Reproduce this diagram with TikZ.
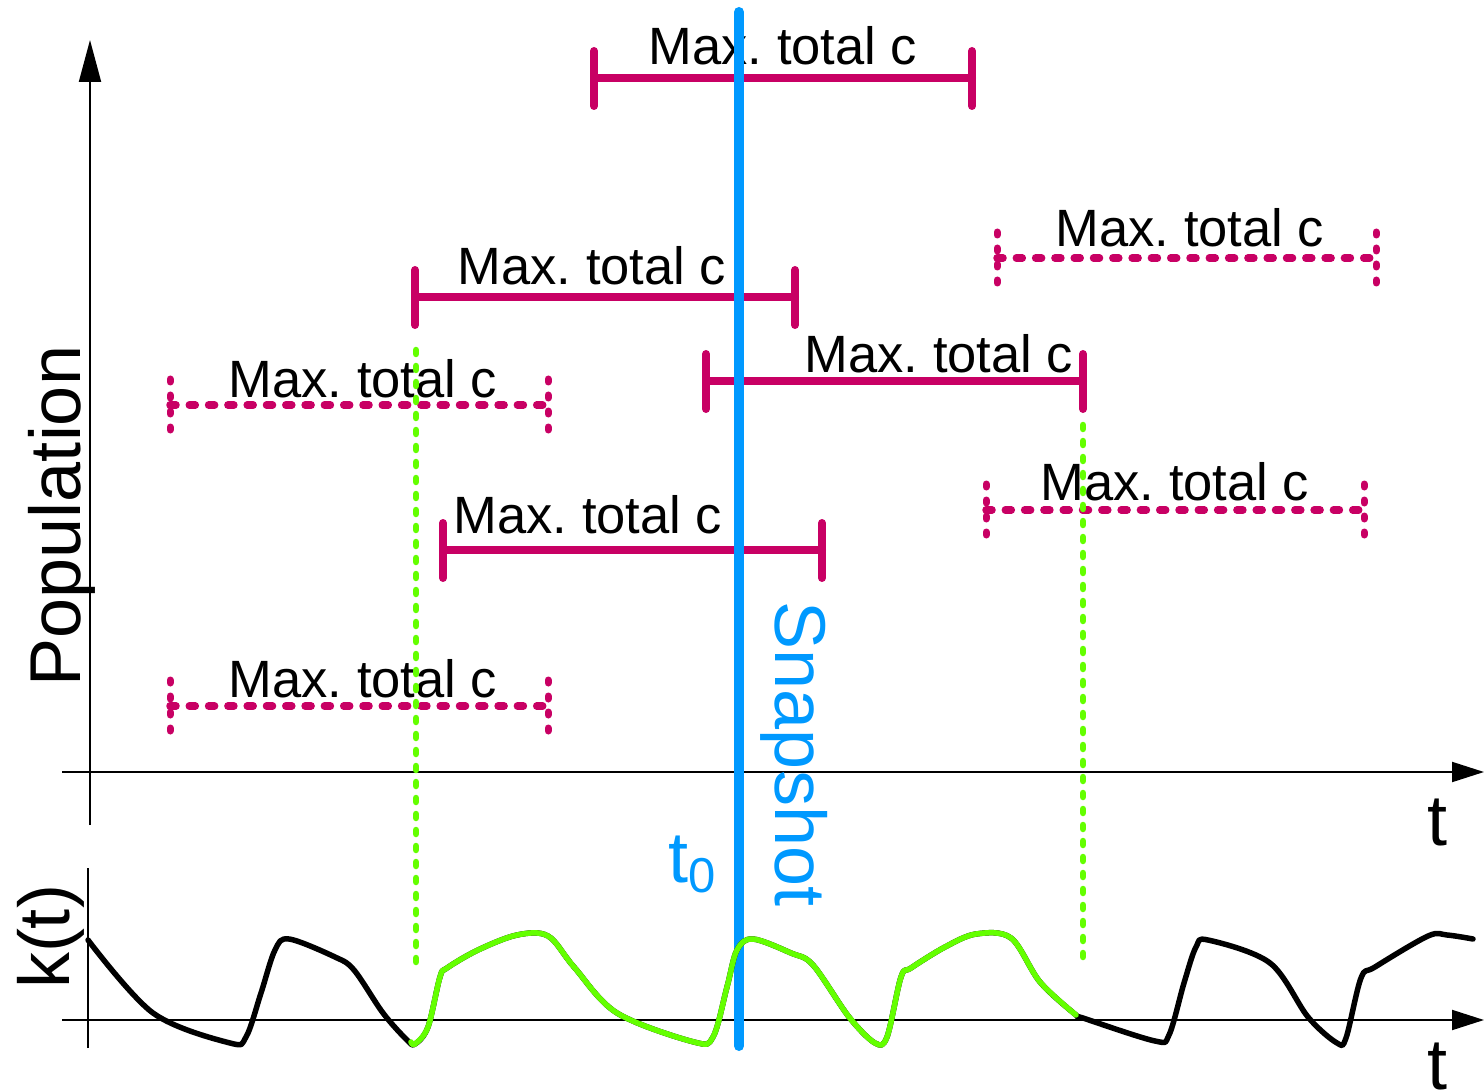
\documentclass[tikz,border=0pt]{standalone}
\usepackage{fontspec}
\setmainfont{Liberation Sans}
\usetikzlibrary{arrows.meta}
\definecolor{mag}{RGB}{200,0,100}
\definecolor{snap}{RGB}{0,153,255}
\definecolor{grn}{RGB}{100,255,0}
\begin{document}
\frenchspacing
\begin{tikzpicture}[x=1pt,y=-1pt,
 lbl/.style={font=\fontsize{52.5}{52.5}\selectfont, anchor=base, inner sep=0pt},
 big/.style={font=\fontsize{72}{72}\selectfont, inner sep=0pt},
 sbar/.style={mag, line width=8pt, line cap=round},
 dbar/.style={mag, line width=7.5pt, line cap=round, dash pattern=on 6pt off 13.3pt},
 dtick/.style={mag, line width=7pt, line cap=round, dash pattern=on 3pt off 13pt},
 gdot/.style={grn, line width=6.5pt, line cap=round, dash pattern=on 4pt off 12pt},
 axisline/.style={line width=2pt},
 curve/.style={line width=5.5pt, line cap=round, line join=round},
]
\useasboundingbox (0,0) rectangle (1484,1091);

% axes
\coordinate (yb) at (90,825); \coordinate (yt) at (90,40);
\coordinate (xl) at (62,772); \coordinate (xr) at (1484,772);
\draw[axisline,-{Triangle[length=42pt,width=22pt]}] (yb) -- (yt);
\draw[axisline,-{Triangle[length=32pt,width=20pt]}] (xl) -- (xr);
\coordinate (kyb) at (88,1048); \coordinate (kyt) at (88,868);
\coordinate (kxl) at (62,1020); \coordinate (kxr) at (1484,1020);
\draw[axisline] (kyb) -- (kyt);
\draw[axisline,-{Triangle[length=32pt,width=20pt]}] (kxl) -- (kxr);

\node[big, anchor=base] (tup) at (1437,845) {t};
\node[big, anchor=base] (tdown) at (1437,1089) {t};
\node[big, anchor=base, rotate=90] (pop) at (80,516) {Population};
\node[big, anchor=base, rotate=90] (kt) at (69,937) {k(t)};

% solid bars: id / x1 / x2 / y / text x / text baseline
\foreach \i/\xa/\xb/\y/\tx/\ty in {1/594/972/78/783/65, 2/415/795/297/592/285, 3/706/1083/381/939/373, 4/443/822/550/588/533}{
  \coordinate (s\i a) at (\xa,\y); \coordinate (s\i b) at (\xb,\y);
  \draw[sbar] (s\i a) -- (s\i b);
  \draw[sbar] ([yshift=-28pt]s\i a) -- ([yshift=27pt]s\i a);
  \draw[sbar] ([yshift=-28pt]s\i b) -- ([yshift=27pt]s\i b);
  \node[lbl] (st\i) at (\tx,\ty) {Max. total c};
}
% dashed bars
\foreach \i/\xa/\xb/\y/\tx/\ty in {5/170/548/405/363/397, 6/170/548/706/363/697, 7/997/1376/258/1190/247, 8/986/1364/510/1175/500}{
  \coordinate (d\i a) at (\xa,\y); \coordinate (d\i b) at (\xb,\y);
  \draw[dbar] (d\i a) -- (d\i b);
  \draw[dtick] ([yshift=-25pt]d\i a) -- ([yshift=27pt]d\i a);
  \draw[dtick] ([yshift=-25pt]d\i b) -- ([yshift=27pt]d\i b);
  \node[lbl] (dt\i) at (\tx,\ty) {Max. total c};
}

% snapshot line
\coordinate (snt) at (739,12); \coordinate (snb) at (739,1046);
\draw[snap, line width=10pt, line cap=round] (snt) -- (snb);
\node[big, snap, anchor=base, rotate=-90] (snaptxt) at (775,754) {Snapshot};
\node[big, snap, anchor=base] (t0) at (692,882) {t\raisebox{-10pt}{\fontsize{49}{49}\selectfont 0}};

% green dotted verticals
\coordinate (g1t) at (416,350); \coordinate (g1b) at (416,970);
\coordinate (g2t) at (1083,425); \coordinate (g2b) at (1083,965);
\draw[gdot] (g1t) -- (g1b);
\draw[gdot] (g2t) -- (g2b);

% k(t) curve
\draw[curve] plot[smooth, tension=0.55] coordinates {
 (88,940) (153,1013) (230,1043) (246,1037) (261,993) (275,950) (289,939)
 (335,957) (354,970) (383,1013) (407,1040) (415,1044) (428,1027) (440,977)
 (447,968) (478,950) (517,935) (548,936) (574,967) (617,1013) (694,1042)
 (713,1037) (727,987) (737,950) (753,939) (791,953) (813,965) (849,1017)
 (875,1043) (887,1037) (901,977) (911,968) (945,947) (976,934) (1011,938)
 (1040,982) (1076,1015) (1083,1018) (1155,1041) (1169,1035) (1184,983)
 (1196,947) (1208,940) (1270,963) (1308,1017) (1337,1043) (1346,1038)
 (1361,978) (1375,967) (1428,936) (1447,935) (1473,939)};
\draw[curve, grn] plot[smooth, tension=0.55] coordinates {
 (411,1042) (415,1044) (428,1027) (440,977)
 (447,968) (478,950) (517,935) (548,936) (574,967) (617,1013) (694,1042)
 (713,1037) (727,987) (737,950) (753,939) (791,953) (813,965) (849,1017)
 (875,1043) (887,1037) (901,977) (911,968) (945,947) (976,934) (1011,938)
 (1040,982) (1076,1015)};
\end{tikzpicture}
\end{document}
